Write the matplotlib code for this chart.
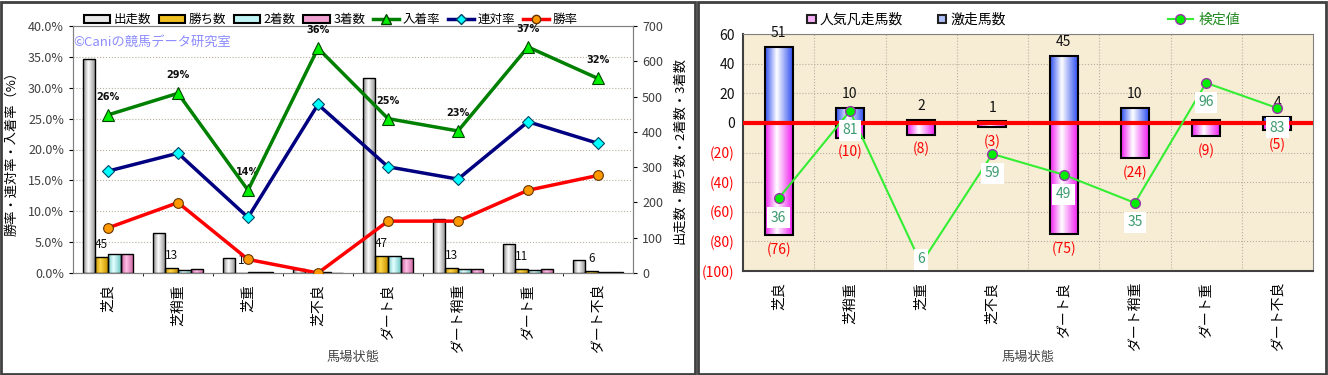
import matplotlib
matplotlib.use("Agg")
import matplotlib.pyplot as plt
import numpy as np
from matplotlib.colors import LinearSegmentedColormap
from matplotlib.patches import Patch, Rectangle
from matplotlib.lines import Line2D
from matplotlib.ticker import MultipleLocator

plt.rcParams['font.family'] = ['Noto Sans CJK JP', 'DejaVu Sans']

# ---- data ----
categories = ['芝良', '芝稍重', '芝重', '芝不良', 'ダート良', 'ダート稍重', 'ダート重', 'ダート不良']
starts = [606, 112, 43, 11, 553, 152, 82, 38]
wins = [45, 13, 1, 0, 47, 13, 11, 6]
seconds = [55, 9, 3, 3, 48, 10, 9, 2]
thirds = [55, 11, 2, 1, 42, 12, 10, 4]
place_rate = [25.6, 29.1, 13.4, 36.4, 25.0, 23.0, 36.6, 31.5]
rentai_rate = [16.5, 19.4, 9.0, 27.3, 17.2, 15.2, 24.5, 21.0]
win_rate = [7.3, 11.4, 2.2, 0.0, 8.4, 8.4, 13.4, 15.8]
place_labels = ['26%', '29%', '14%', '36%', '25%', '23%', '37%', '32%']

gekisou = [51, 10, 2, 1, 45, 10, 2, 4]          # 激走馬数
bonsou = [76, 10, 8, 3, 75, 24, 9, 5]           # 人気凡走馬数
kentei = [36, 81, 6, 59, 49, 35, 96, 83]        # 検定値 (label)
kentei_pos = [-51, 8, -95, -21, -35, -54, 27, 10]  # 検定値 plotted height

BG = '#F7ECD4'


def grad_bar(ax, x, bottom, h, w, c_edge, c_mid, lw=1.0, z=3):
    bar = ax.bar(x, h, w, bottom=bottom, color='none', edgecolor='black', linewidth=lw, zorder=z)[0]
    if h == 0:
        return bar
    cmap = LinearSegmentedColormap.from_list('g', [(0, c_edge), (0.42, c_mid), (1, c_edge)])
    img = ax.imshow(np.linspace(0, 1, 64).reshape(1, -1), cmap=cmap, aspect='auto',
                    extent=[x - w / 2, x + w / 2, min(bottom, bottom + h), max(bottom, bottom + h)],
                    zorder=z - 0.1, interpolation='bilinear')
    img.set_clip_path(bar)
    return bar


fig = plt.figure(figsize=(13.28, 3.75), dpi=100)

# panel frames
fig.patches.append(Rectangle((1 / 1328, 1 / 375), 694 / 1328, 372 / 375, transform=fig.transFigure,
                             fill=False, edgecolor='#404040', linewidth=2))
fig.patches.append(Rectangle((698 / 1328, 1 / 375), 628 / 1328, 372 / 375, transform=fig.transFigure,
                             fill=False, edgecolor='#404040', linewidth=2))

# ================= left chart =================
x = np.arange(len(categories))
ax_l = fig.add_axes([73 / 1328, 1 - 273 / 375, 560 / 1328, 247 / 375])
ax_b = ax_l.twinx()
ax_b.set_zorder(ax_l.get_zorder() - 1)
ax_l.patch.set_visible(False)
ax_b.set_facecolor(BG)

bw = 0.18
bar_styles = [(starts, -0.27, '#8a8a8a', '#ffffff'),
              (wins, -0.09, '#c89400', '#ffd84a'),
              (seconds, 0.09, '#70c8c8', '#e6ffff'),
              (thirds, 0.27, '#c8609e', '#ffc0e6')]
for vals, off, ce, cm in bar_styles:
    for i, v in enumerate(vals):
        grad_bar(ax_b, x[i] + off, 0, v, bw, ce, cm)

for i, v in enumerate(wins):
    if v > 0:
        ax_b.annotate(str(v), (x[i] - 0.09, v), xytext=(0, 9), textcoords='offset points',
                      ha='center', va='center', fontsize=8.5, color='#111111')

ax_b.set_ylim(0, 700)
ax_b.set_xlim(-0.5, 7.5)
ax_b.yaxis.set_major_locator(MultipleLocator(100))
ax_b.yaxis.set_minor_locator(MultipleLocator(87.5))
ax_b.set_xticks(np.arange(0.5, 7.5, 1), minor=True)
ax_b.grid(which='minor', color='#b8b0a0', linestyle=':', linewidth=0.8)
ax_b.tick_params(axis='y', which='major', labelsize=9, labelcolor='#404040', length=3)
ax_b.tick_params(axis='y', which='minor', length=0)
ax_b.tick_params(axis='x', which='both', length=0)

ax_l.plot(x, place_rate, color='#008000', lw=2.5, marker='^', ms=9, mfc='#00ee00', mec='#004400', mew=0.8,
          zorder=5)
ax_l.plot(x, rentai_rate, color='#000080', lw=2.5, marker='D', ms=6, mfc='#00ffff', mec='#004466', mew=0.8,
          zorder=5)
ax_l.plot(x, win_rate, color='#ff0000', lw=2.5, marker='o', ms=7, mfc='#ff9900', mec='#663300', mew=0.8,
          zorder=5)
for i, lab in enumerate(place_labels):
    ax_l.annotate(lab, (x[i], place_rate[i]), xytext=(0, 13), textcoords='offset points', ha='center',
                  va='center', fontsize=7, fontweight='bold', family='DejaVu Sans', color='#111111')

ax_l.set_ylim(0, 40)
ax_l.set_xlim(-0.5, 7.5)
ax_l.set_yticks(np.arange(0, 40.1, 5))
ax_l.set_yticklabels([f'{v:.1f}%' for v in np.arange(0, 40.1, 5)])
ax_l.tick_params(axis='y', labelsize=9, labelcolor='#404040', length=3)
ax_l.set_xticks(x)
ax_l.set_xticklabels(categories, rotation=90, va='top', ha='center', fontsize=10)
ax_l.tick_params(axis='x', length=0, pad=8)
for ax in (ax_l, ax_b):
    for s in ax.spines.values():
        s.set_color('#808080')

ax_l.text(0.0, 0.935, '©Caniの競馬データ研究室', transform=ax_l.transAxes, fontsize=9.5,
          color='#8c8cff', va='center', ha='left', zorder=6)

fig.text(12 / 1328, 1 - 150 / 375, '勝率・連対率・入着率（%）', rotation=90, ha='center', va='center', fontsize=9.5)
fig.text(680 / 1328, 1 - 150 / 375, '出走数・勝ち数・2着数・3着数', rotation=90, ha='center', va='center',
         fontsize=9.5)
fig.text(353 / 1328, 1 - 357 / 375, '馬場状態', ha='center', va='center', fontsize=9.5, color='#444444')


def cyl(ce, cm):
    return Patch(facecolor=cm, edgecolor='black', linewidth=1.5)


handles = [cyl('#8a8a8a', '#e8e8e8'), cyl('#c89400', '#f0c020'), cyl('#70c8c8', '#c0f4f4'),
           cyl('#c8609e', '#f0a0d0'),
           Line2D([], [], color='#008000', lw=2.5, marker='^', ms=7, mfc='#00ee00', mec='#004400'),
           Line2D([], [], color='#000080', lw=2.5, marker='D', ms=5, mfc='#00ffff', mec='#004466'),
           Line2D([], [], color='#ff0000', lw=2.5, marker='o', ms=6, mfc='#ff9900', mec='#663300')]
labels = ['出走数', '勝ち数', '2着数', '3着数', '入着率', '連対率', '勝率']
ax_l.legend(handles, labels, ncol=7, loc='lower left', bbox_to_anchor=(0.015, 0.99), frameon=False,
            fontsize=9, handlelength=2.1, handleheight=0.6, handletextpad=0.3, columnspacing=0.6,
            borderaxespad=0, borderpad=0.2)

# ================= right chart =================
ax2 = fig.add_axes([743 / 1328, 1 - 271 / 375, 570 / 1328, 237 / 375])
ax2.set_facecolor(BG)
w2 = 0.39
for i in range(len(categories)):
    grad_bar(ax2, x[i], 0, gekisou[i], w2, '#3050f0', '#ffffff', lw=1.5)
    grad_bar(ax2, x[i], 0, -bonsou[i], w2, '#f020f0', '#ffffff', lw=1.5)
    ax2.annotate(str(gekisou[i]), (x[i], gekisou[i]), xytext=(0, 10), textcoords='offset points',
                 ha='center', va='center', fontsize=10, color='#111111', zorder=4)
    ax2.annotate(f'({bonsou[i]})', (x[i], -bonsou[i]), xytext=(0, -10.5), textcoords='offset points',
                 ha='center', va='center', fontsize=10, color='#ff0000', zorder=4)

ax2.axhline(0, color='#ff0000', lw=3, zorder=5)
ax2.plot(x, kentei_pos, color='#33ee33', lw=1.5, marker='o', ms=7, mfc='#00ee00', mec='#9933aa', mew=1,
         zorder=6)
for i, v in enumerate(kentei):
    dy = -14 if kentei_pos[i] > -85 else 3   # label pushed inside the plot area near the bottom
    ax2.annotate(str(v), (x[i], kentei_pos[i]), xytext=(0, dy), textcoords='offset points', ha='center',
                 va='center', fontsize=10, color='#3c9a6e', zorder=7,
                 bbox=dict(boxstyle='square,pad=0.25', fc='white', ec='none'))

ax2.set_xlim(-0.5, 7.5)
ax2.set_ylim(-100, 60)
yt = np.arange(-100, 61, 20)
ax2.set_yticks(yt)
ax2.set_yticklabels([str(v) if v >= 0 else f'({-v})' for v in yt], fontsize=10)
for lab, v in zip(ax2.get_yticklabels(), yt):
    lab.set_color('#ff0000' if v < 0 else '#111111')
ax2.tick_params(axis='y', length=0, pad=6)
ax2.set_xticks(x)
ax2.set_xticklabels(categories, rotation=90, va='top', ha='center', fontsize=10)
ax2.tick_params(axis='x', length=0, pad=8)
ax2.set_xticks(np.arange(0.5, 7.5, 1), minor=True)
ax2.tick_params(axis='x', which='minor', length=0)
ax2.grid(which='minor', axis='x', color='#b8b0a0', linestyle=':', linewidth=0.8)
ax2.grid(which='major', axis='y', color='#b8b0a0', linestyle=':', linewidth=0.8)
ax2.set_axisbelow(True)
for s in ax2.spines.values():
    s.set_color('#808080')
ax2.spines['left'].set_color('#404040')
ax2.spines['bottom'].set_color('#404040')
ax2.spines['left'].set_linewidth(1.5)
ax2.spines['bottom'].set_linewidth(1.5)

fig.text(1028 / 1328, 1 - 357 / 375, '馬場状態', ha='center', va='center', fontsize=9.5, color='#444444')

leg1 = ax2.legend([Patch(facecolor='#f8b0f8', edgecolor='#222222', linewidth=1.5),
                   Patch(facecolor='#b0c0f8', edgecolor='#222222', linewidth=1.5)],
                  ['人気凡走馬数', '激走馬数'], ncol=2, loc='lower left', bbox_to_anchor=(0.113, 1.03),
                  frameon=False, fontsize=10, handlelength=0.6, handleheight=0.6, handletextpad=0.3,
                  columnspacing=2.5, borderaxespad=0, borderpad=0)
ax2.add_artist(leg1)
leg2 = ax2.legend([Line2D([], [], color='#33ee33', lw=1.5, marker='o', ms=7, mfc='#00ee00', mec='#9933aa')],
                  ['検定値'], loc='lower left', bbox_to_anchor=(0.745, 1.03), frameon=False, fontsize=10,
                  handlelength=1.8, handletextpad=0.4, borderaxespad=0, borderpad=0)
for t in leg2.get_texts():
    t.set_color('#228b22')

fig.savefig('out.png', dpi=100, facecolor='white')
